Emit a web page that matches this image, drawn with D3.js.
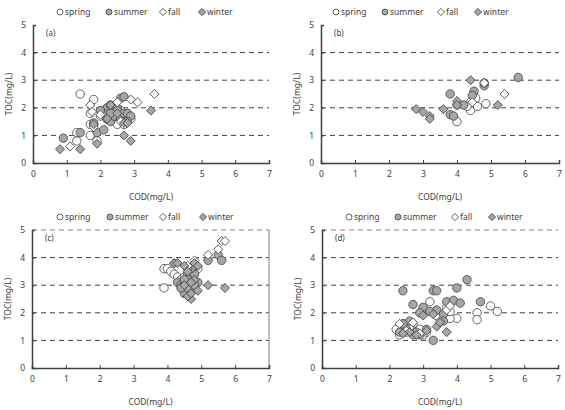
<!DOCTYPE html>
<html>
<head>
<meta charset="utf-8">
<script src="https://cdn.jsdelivr.net/npm/d3@7"></script>
<style>
  body { margin: 0; background: #fff; }
  text { font-family: "Noto Sans", "DejaVu Sans", sans-serif; fill: #404040; }
</style>
</head>
<body>
<div id="chart"></div>
<script>
// COD vs TOC by season, four sites
const seasons = ["spring", "summer", "fall", "winter"];
const xTicks = [0, 1, 2, 3, 4, 5, 6, 7];
const yTicks = [0, 1, 2, 3, 4, 5];

// panel (a)
const aSpring = [[1.4,2.5],[1.8,2.3],[1.7,1.8],[1.7,1.4],[1.7,1.0],[1.3,0.8],[1.3,1.1],[1.9,0.8],[2.0,1.7],[2.5,1.4],[2.7,1.4],[2.2,1.6],[1.8,1.4],[2.4,1.7],[2.6,1.9],[2.9,1.6]];
const aSummer = [[0.9,0.9],[1.4,1.1],[1.8,1.45],[1.9,1.1],[2.1,1.2],[2.1,1.9],[2.2,2.0],[2.3,2.1],[2.4,2.0],[2.5,2.0],[2.6,2.35],[2.7,2.4],[2.2,1.6],[2.3,1.5],[2.4,1.7],[2.5,1.9],[2.6,1.6],[2.7,1.8],[2.8,1.8],[2.9,1.7],[2.8,1.5],[2.1,1.8],[2.0,1.9],[2.3,1.8]];
const aFall = [[1.1,0.6],[1.7,2.1],[1.75,1.85],[2.9,2.3],[3.1,2.2],[3.6,2.5],[2.5,2.2],[2.6,1.5],[2.0,1.75],[1.8,1.3]];
const aWinter = [[0.8,0.5],[1.4,0.5],[1.9,0.7],[2.7,1.0],[2.9,0.8],[3.5,1.9],[2.2,1.6],[2.3,2.1],[2.7,1.45],[2.8,1.45],[2.5,1.8],[1.8,1.4]];

// panel (b)
const bSpring = [[4.0,1.5],[4.0,2.1],[4.4,1.9],[4.5,2.4],[4.55,2.35],[4.6,2.05],[4.4,2.2],[4.85,2.15],[4.3,2.05]];
const bSummer = [[3.8,2.5],[3.8,1.75],[3.9,1.7],[4.2,2.1],[4.5,2.6],[4.8,2.8],[4.8,2.9],[5.8,3.1],[4.45,2.45]];
const bFall = [[5.4,2.5],[4.8,2.9],[4.45,2.2]];
const bWinter = [[2.8,1.95],[3.0,1.85],[3.2,1.7],[3.2,1.6],[3.6,1.95],[4.0,2.25],[4.4,3.0],[5.2,2.1],[4.0,2.1]];

// panel (c)
const cSpring = [[3.9,2.9],[3.9,3.6],[4.0,3.6],[4.1,3.5],[4.2,3.4],[4.3,3.3],[4.4,3.2],[4.5,3.3],[4.9,3.6]];
const cSummer = [[4.3,3.1],[4.4,3.0],[4.5,2.7],[4.5,3.0],[4.6,3.4],[4.6,3.2],[4.7,3.0],[4.7,2.8],[4.8,3.4],[4.8,3.7],[4.9,3.1],[4.6,2.9],[5.2,3.9],[5.5,4.1],[5.6,3.9],[4.5,3.2],[4.7,3.6],[4.4,2.9],[4.8,3.0],[4.6,3.6]];
const cFall = [[5.2,4.1],[5.5,4.3],[5.6,4.6],[5.7,4.6],[4.8,3.9],[4.6,3.7],[4.2,3.8]];
const cWinter = [[4.2,3.8],[4.3,3.8],[4.5,3.7],[4.7,2.5],[4.6,2.6],[4.7,2.7],[4.9,2.8],[5.2,3.0],[5.7,2.9],[4.8,3.2],[4.5,3.0],[4.7,3.1],[4.8,3.8],[4.9,3.7],[4.6,3.5]];

// panel (d)
const dSpring = [[3.2,2.4],[4.0,1.8],[3.8,1.8],[4.6,2.0],[4.6,1.75],[5.0,2.25],[5.2,2.05],[3.4,1.9],[3.7,2.2],[2.4,1.6],[2.3,1.2],[2.7,1.6],[2.5,1.3],[2.2,1.4],[3.0,1.2],[2.6,1.5],[3.1,1.3],[2.9,1.4],[3.8,2.05]];
const dSummer = [[2.4,2.8],[2.7,2.3],[3.0,2.2],[2.9,2.0],[3.3,2.8],[3.4,2.8],[3.3,1.0],[3.4,2.1],[3.6,1.95],[3.7,2.4],[3.9,2.45],[4.0,2.9],[4.3,3.2],[4.1,2.35],[4.7,2.4],[3.2,2.05],[2.3,1.3],[2.5,1.4],[2.6,1.7],[2.7,1.2],[2.8,1.3],[2.9,1.2],[3.1,1.4],[2.4,1.6],[3.6,1.7]];
const dFall = [[3.7,2.1],[3.8,2.25],[2.7,1.65],[2.3,1.6],[2.5,1.35],[2.9,1.25],[3.5,1.7]];
const dWinter = [[3.0,1.9],[3.4,1.5],[3.7,1.3],[3.3,1.95],[2.6,1.3],[2.8,1.2],[3.1,1.35],[2.4,1.25],[3.5,1.65]];

const panels = [
  {label: "(a)", series: [aSpring, aSummer, aFall, aWinter], x0: 33, x1: 269, y0: 163, y1: 25, top: 0, legX: [60, 109, 163, 202], border: false, topLine: false},
  {label: "(b)", series: [bSpring, bSummer, bFall, bWinter], x0: 321, x1: 559, y0: 163, y1: 25, top: 0, legX: [336, 385, 441, 478], border: false, topLine: false},
  {label: "(c)", series: [cSpring, cSummer, cFall, cWinter], x0: 32, x1: 269, y0: 368, y1: 230, top: 205, legX: [60, 110, 163, 203], border: true, topLine: true},
  {label: "(d)", series: [dSpring, dSummer, dFall, dWinter], x0: 322, x1: 558, y0: 368, y1: 230, top: 205, legX: [349, 398, 455, 492], border: false, topLine: true}
];

const fills = {spring: "#ffffff", summer: "#a6a6a6", fall: "#ffffff", winter: "#a6a6a6"};
const round = {spring: true, summer: true, fall: false, winter: false};
const stroke = "#404040";

const svg = d3.select("#chart").append("svg")
  .attr("width", 565)
  .attr("height", 410);

// circle of radius r, or a square turned 45deg with half-diagonal r
function markerPath(season, r) {
  if (round[season]) {
    return d3.symbol().type(d3.symbolCircle).size(Math.PI * r * r)();
  }
  let side = r * Math.SQRT2;
  return d3.symbol().type(d3.symbolSquare).size(side * side)();
}

panels.forEach(p => {
  let x = d3.scaleLinear().domain([0, 7]).range([p.x0, p.x1]);
  let y = d3.scaleLinear().domain([0, 5]).range([p.y0, p.y1]);
  let g = svg.append("g");

  // legend
  seasons.forEach((s, i) => {
    let rot = round[s] ? "" : " rotate(45)";
    g.append("path")
      .attr("d", markerPath(s, round[s] ? 3 : 3.6))
      .attr("transform", "translate(" + p.legX[i] + "," + (p.top + 12) + ")" + rot)
      .attr("fill", fills[s])
      .attr("stroke", stroke)
      .attr("stroke-width", 0.8);
    g.append("text")
      .text(s)
      .attr("x", p.legX[i] + 5)
      .attr("y", p.top + 15)
      .attr("font-size", 8.5);
  });

  // dashed gridlines
  g.selectAll(".grid")
    .data(yTicks.filter(t => t > 0 && t < 5))
    .enter().append("line")
    .attr("x1", p.x0).attr("x2", p.x1)
    .attr("y1", d => y(d)).attr("y2", d => y(d))
    .attr("stroke", "#404040")
    .attr("stroke-width", 1)
    .attr("stroke-dasharray", "5,4");

  if (p.topLine) {
    g.append("line")
      .attr("x1", p.x0).attr("x2", p.x1)
      .attr("y1", y(5)).attr("y2", y(5))
      .attr("stroke", "#808080")
      .attr("stroke-width", 1)
      .attr("stroke-dasharray", "5,4");
  }
  if (p.border) {
    g.append("line")
      .attr("x1", p.x1).attr("x2", p.x1)
      .attr("y1", y(5)).attr("y2", y(0))
      .attr("stroke", "#808080")
      .attr("stroke-width", 1);
  }

  // axes
  let xAxis = d3.axisBottom(x).tickValues(xTicks).tickSize(-3).tickPadding(8).tickFormat(d3.format("d"));
  let yAxis = d3.axisLeft(y).tickValues(yTicks).tickSize(-3).tickPadding(7).tickFormat(d3.format("d"));
  let gx = g.append("g").attr("transform", "translate(0," + p.y0 + ")").call(xAxis);
  let gy = g.append("g").attr("transform", "translate(" + p.x0 + ",0)").call(yAxis);
  [gx, gy].forEach(ax => {
    ax.select(".domain").attr("stroke", stroke).attr("stroke-width", 1.5);
    ax.selectAll(".tick line").attr("stroke", stroke);
    ax.selectAll(".tick text").attr("font-size", 8.5).attr("fill", "#404040")
      .style("font-family", "'Noto Sans', sans-serif");
  });

  // axis titles
  g.append("text")
    .text("COD(mg/L)")
    .attr("x", (p.x0 + p.x1) / 2)
    .attr("y", p.y0 + 37)
    .attr("text-anchor", "middle")
    .attr("font-size", 8.5);
  g.append("text")
    .text("TOC(mg/L)")
    .attr("transform", "translate(" + (p.x0 - 21) + "," + ((p.y0 + p.y1) / 2) + ") rotate(-90)")
    .attr("text-anchor", "middle")
    .attr("font-size", 8.5);

  g.append("text")
    .text(p.label)
    .attr("x", p.x0 + 13)
    .attr("y", p.y1 + 11)
    .attr("font-size", 8);

  // points
  seasons.forEach((s, i) => {
    let rot = round[s] ? "" : " rotate(45)";
    g.selectAll(".pt-" + s)
      .data(p.series[i])
      .enter().append("path")
      .attr("d", markerPath(s, round[s] ? 4.2 : 4.5))
      .attr("transform", d => "translate(" + x(d[0]) + "," + y(d[1]) + ")" + rot)
      .attr("fill", fills[s])
      .attr("stroke", stroke)
      .attr("stroke-width", 0.8);
  });
});
</script>
</body>
</html>
